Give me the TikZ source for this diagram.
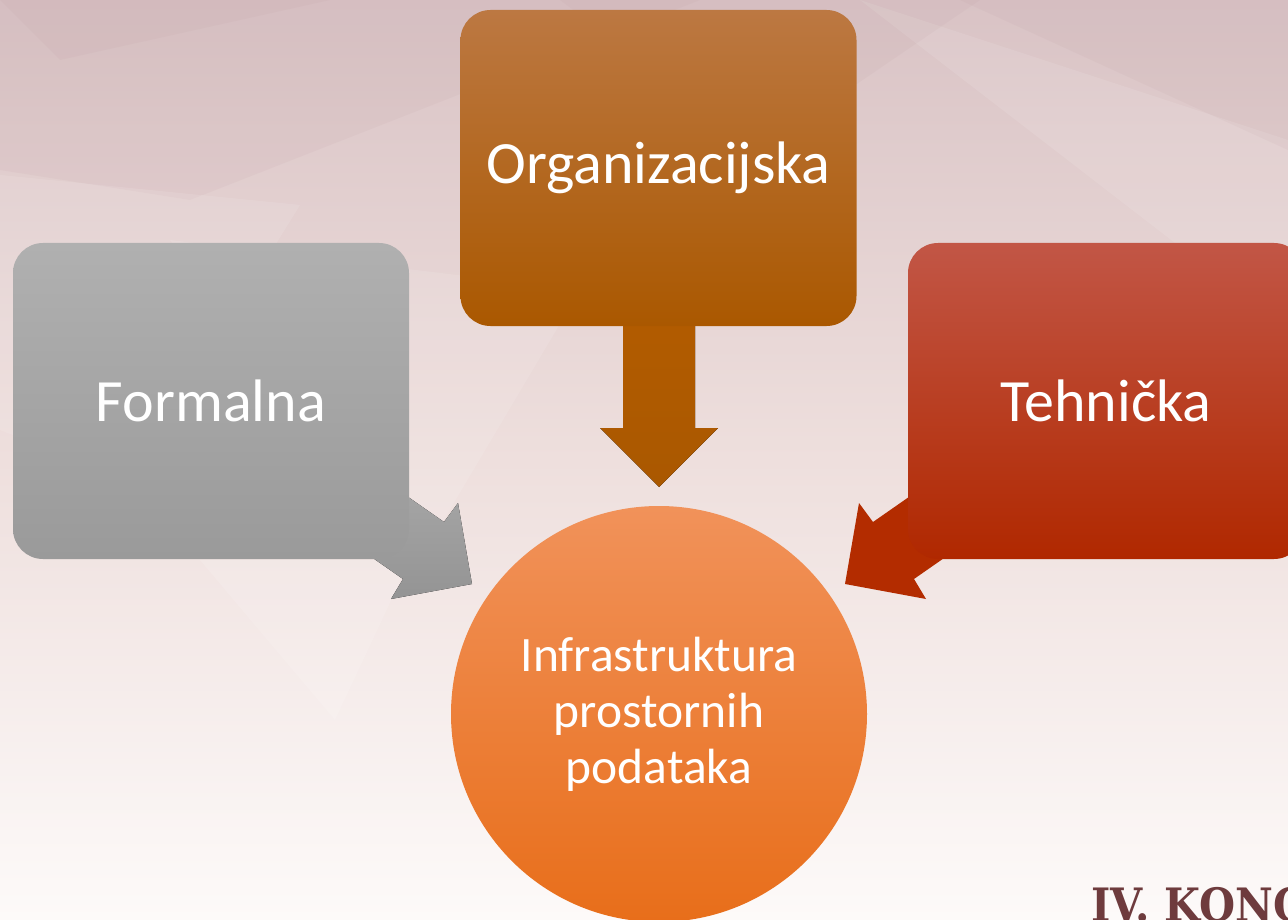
\documentclass[tikz,border=0pt]{standalone}
\usepackage{fontspec}
\setmainfont{Carlito}
\newfontfamily\slabfont[FakeStretch=0.9]{DejaVu Serif}
\definecolor{bgtop}{HTML}{D9C3C5}
\definecolor{bgmid}{HTML}{EEDFDD}
\definecolor{bgbot}{HTML}{FDFAF9}
\definecolor{facetdark}{HTML}{B8949A}
\definecolor{orgtop}{HTML}{BC7842}
\definecolor{orgbot}{HTML}{AA5800}
\definecolor{formtop}{HTML}{B0B0B0}
\definecolor{formbot}{HTML}{9A9A9A}
\definecolor{tehtop}{HTML}{C25646}
\definecolor{tehbot}{HTML}{B02800}
\definecolor{circtop}{HTML}{F1925A}
\definecolor{circbot}{HTML}{E86E1A}
\definecolor{kongcol}{HTML}{6E3B3D}
\begin{document}
\begin{tikzpicture}[x=1pt,y=-1pt,
  box/.style={rectangle, rounded corners=30pt, minimum width=396pt, minimum height=316pt,
    inner sep=0pt, text=white, font=\fontsize{60}{72}\selectfont},
  hub/.style={circle, minimum size=416pt, inner sep=0pt, text=white, align=center,
    font=\fontsize{49.5}{56}\selectfont},
  facet/.style={fill=facetdark, opacity=0.09},
  glow/.style={fill=white, opacity=0.10}]
\useasboundingbox (0,0) rectangle (1288,920);
\clip (0,0) rectangle (1288,920);
% background
\fill[top color=bgtop, bottom color=bgbot, middle color=bgmid] (0,0) rectangle (1288,920);
\fill[facet] (0,0) -- (700,0) -- (190,200) -- (0,170) -- cycle;
\fill[facet] (0,0) -- (330,0) -- (60,60) -- cycle;
\fill[glow] (0,175) -- (300,205) -- (130,480) -- (0,430) -- cycle;
\fill[glow] (170,240) -- (580,290) -- (420,560) -- cycle;
\fill[facet] (960,0) -- (1288,0) -- (1288,150) -- cycle;
\fill[glow] (860,0) -- (1288,330) -- (1288,140) -- cycle;
\fill[facet] (560,0) -- (980,0) -- (760,150) -- cycle;
\fill[glow, opacity=0.12] (200,560) -- (410,560) -- (335,720) -- cycle;
% block arrows (behind boxes)
\fill[top color=orgbot!90!orange, bottom color=orgbot]
  (623,300) -- (695,300) -- (695,428) -- (718,428) -- (659,487) -- (600,428) -- (623,428) -- cycle;
\fill[top color=formtop!95!black, bottom color=formbot!96!black]
  (378,476) -- (444,522) -- (458,503) -- (472,584) -- (391,599) -- (403,579) -- (337,533) -- cycle;
\fill[color=tehbot!96!orange]
  (939,476) -- (873,522) -- (859,503) -- (845,584) -- (926,599) -- (914,579) -- (980,533) -- cycle;
% boxes
\node[box, top color=orgtop, bottom color=orgbot] (org) at (658.5,168) {Organizacijska};
\node[box, top color=formtop, bottom color=formbot] (form) at (211,401) {Formalna};
\node[box, top color=tehtop, bottom color=tehbot] (teh) at (1106,401) {Tehnička};
% hub
\node[hub, top color=circtop, bottom color=circbot] (ipp) at (659,714)
  {Infrastruktura\\prostornih\\podataka};
% logo text
\node[anchor=base west, inner sep=0pt, text=kongcol, font=\slabfont\bfseries\fontsize{46}{46}\selectfont]
  (kong) at (1091,921) {IV. KONG};
\end{tikzpicture}
\end{document}
